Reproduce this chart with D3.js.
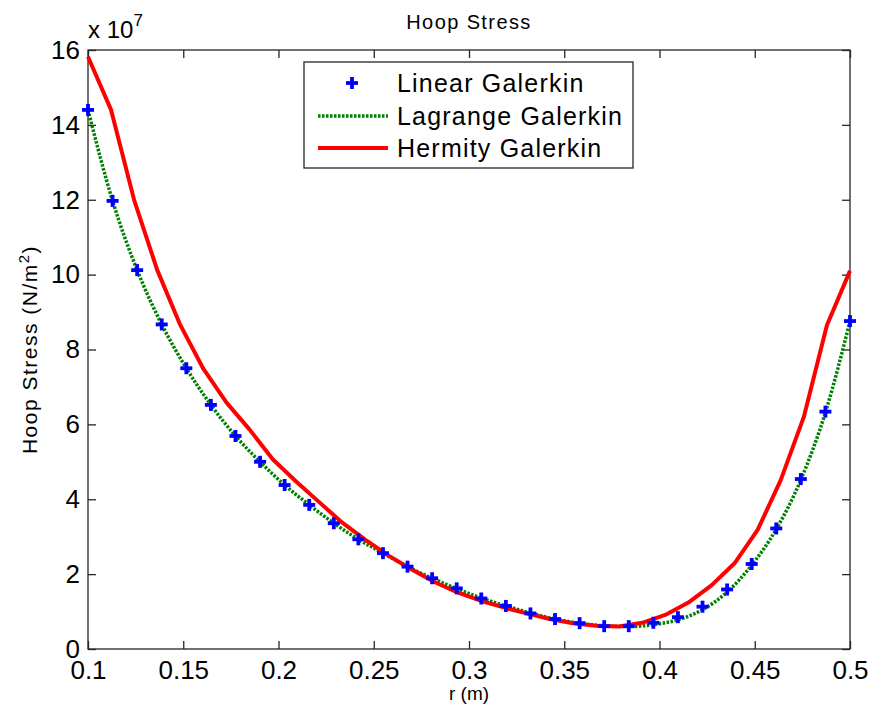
<!DOCTYPE html>
<html>
<head>
<meta charset="utf-8">
<script src="https://cdn.jsdelivr.net/npm/d3@7"></script>
<style>
  body { margin: 0; background: #fff; }
  svg text { font-family: "Liberation Sans", Arial, sans-serif; fill: #000; }
</style>
</head>
<body>
<script>
var width = 872, height = 718;
var margin = {top: 50, right: 22, bottom: 69, left: 88};

// valeurs en unites de 1e7 N/m^2
var linearR = d3.range(32).map(function(i) { return 0.1 + i * 0.4 / 31; });
var linearVal = [14.40, 11.97, 10.12, 8.67, 7.50, 6.52, 5.69, 5.00, 4.38, 3.85,
                 3.36, 2.93, 2.56, 2.20, 1.89, 1.62, 1.35, 1.15, 0.95, 0.80,
                 0.69, 0.61, 0.61, 0.70, 0.85, 1.13, 1.59, 2.27, 3.22, 4.54,
                 6.34, 8.76];
var lagrangeVal = [14.40, 11.97, 10.12, 8.67, 7.50, 6.52, 5.69, 5.00, 4.38, 3.85,
                   3.36, 2.93, 2.56, 2.20, 1.89, 1.61, 1.36, 1.15, 0.96, 0.80,
                   0.69, 0.62, 0.60, 0.65, 0.78, 1.05, 1.52, 2.24, 3.20, 4.52,
                   6.32, 8.76];
var hermiteR = d3.range(34).map(function(j) { return 0.1 + j * 0.4 / 33; });
var hermiteVal = [15.82, 14.40, 11.99, 10.12, 8.65, 7.48, 6.58, 5.86, 5.07, 4.48,
                  3.93, 3.38, 2.92, 2.50, 2.13, 1.79, 1.51, 1.29, 1.11, 0.95,
                  0.80, 0.69, 0.62, 0.60, 0.70, 0.91, 1.24, 1.70, 2.29, 3.18,
                  4.51, 6.20, 8.65, 10.10];
var xTicks = [0.1, 0.15, 0.2, 0.25, 0.3, 0.35, 0.4, 0.45, 0.5];
var yTicks = [0, 2, 4, 6, 8, 10, 12, 14, 16];
var legendLabels = ["Linear Galerkin", "Lagrange Galerkin", "Hermity Galerkin"];

var svg = d3.select("body").append("svg")
    .attr("width", width)
    .attr("height", height);

var w = width - margin.left - margin.right,
    h = height - margin.top - margin.bottom;

var g = svg.append("g").attr("transform", "translate(" + margin.left + "," + margin.top + ")");

var x = d3.scaleLinear().domain([0.1, 0.5]).range([0, w]);
var y = d3.scaleLinear().domain([0, 16]).range([h, 0]);

var axisColor = "#262626";

// axes avec ticks vers l'interieur (style matlab)
function styleAxis(sel) {
    sel.select(".domain").remove();
    sel.selectAll(".tick line").attr("stroke", axisColor).attr("stroke-width", 1.3);
    sel.selectAll("text").style("font-size", "26px").attr("fill", "#000");
}

g.append("g").attr("transform", "translate(0," + h + ")")
    .call(d3.axisBottom(x).tickValues(xTicks).tickSizeInner(-8).tickSizeOuter(0).tickPadding(12)
        .tickFormat(function(d) { return String(+d.toFixed(2)); }))
    .call(styleAxis);
g.append("g")
    .call(d3.axisTop(x).tickValues(xTicks).tickSizeInner(-8).tickSizeOuter(0).tickFormat(""))
    .call(styleAxis);
g.append("g")
    .call(d3.axisLeft(y).tickValues(yTicks).tickSizeInner(-8).tickSizeOuter(0).tickPadding(8))
    .call(styleAxis);
g.append("g").attr("transform", "translate(" + w + ",0)")
    .call(d3.axisRight(y).tickValues(yTicks).tickSizeInner(-8).tickSizeOuter(0).tickFormat(""))
    .call(styleAxis);

g.append("rect")
    .attr("width", w).attr("height", h)
    .attr("fill", "none").attr("stroke", axisColor).attr("stroke-width", 1.3);

// courbes
var lagLine = d3.line()
    .x(function(d, i) { return x(linearR[i]); })
    .y(function(d) { return y(d); })
    .curve(d3.curveMonotoneX);
var herLine = d3.line()
    .x(function(d, i) { return x(hermiteR[i]); })
    .y(function(d) { return y(d); });

g.append("path").datum(lagrangeVal)
    .attr("d", lagLine)
    .attr("fill", "none").attr("stroke", "#008000")
    .attr("stroke-width", 3.5).attr("stroke-dasharray", "2.5,1.5");

g.append("path").datum(hermiteVal)
    .attr("d", herLine)
    .attr("fill", "none").attr("stroke", "#ff0000")
    .attr("stroke-width", 4).attr("stroke-linejoin", "round");

function plus(sel, s) {
    sel.append("line").attr("x1", -s).attr("x2", s).attr("y1", 0).attr("y2", 0);
    sel.append("line").attr("x1", 0).attr("x2", 0).attr("y1", -s).attr("y2", s);
    sel.selectAll("line").attr("stroke", "#0000ff").attr("stroke-width", 3.8);
}

g.selectAll(".pt").data(linearVal).enter().append("g")
    .attr("class", "pt")
    .attr("transform", function(d, i) { return "translate(" + x(linearR[i]) + "," + y(d) + ")"; })
    .each(function() { plus(d3.select(this), 6); });

// legende
var leg = svg.append("g").attr("transform", "translate(304,62)");
leg.append("rect").attr("width", 329).attr("height", 106)
    .attr("fill", "#fff").attr("stroke", axisColor).attr("stroke-width", 1.3);
var rows = [21, 54, 86];
leg.append("g").attr("transform", "translate(48," + rows[0] + ")").call(plus, 6);
leg.append("line").attr("x1", 14).attr("x2", 84).attr("y1", rows[1]).attr("y2", rows[1])
    .attr("stroke", "#008000").attr("stroke-width", 3.5).attr("stroke-dasharray", "2.5,1.5");
leg.append("line").attr("x1", 14).attr("x2", 84).attr("y1", rows[2]).attr("y2", rows[2])
    .attr("stroke", "#ff0000").attr("stroke-width", 4);
leg.selectAll(".lt").data(legendLabels).enter().append("text")
    .attr("x", 93)
    .attr("y", function(d, i) { return rows[i]; })
    .attr("dy", "0.35em")
    .style("font-size", "25px")
    .style("letter-spacing", "1.2px")
    .text(function(d) { return d; });

// textes
svg.append("text").attr("x", margin.left + w / 2).attr("y", 29)
    .attr("text-anchor", "middle").style("font-size", "20px")
    .style("letter-spacing", "1.4px").text("Hoop Stress");
svg.append("text").attr("x", margin.left + w / 2).attr("y", 700)
    .attr("text-anchor", "middle").style("font-size", "19px").text("r (m)");
var yl = svg.append("text")
    .attr("transform", "translate(37," + (margin.top + h / 2) + ") rotate(-90)")
    .attr("text-anchor", "middle").style("font-size", "21px").style("letter-spacing", "1.5px");
yl.append("tspan").text("Hoop Stress (N/m");
yl.append("tspan").attr("dy", -8).style("font-size", "15px").text("2");
yl.append("tspan").attr("dy", 8).text(")");

var ex = svg.append("text").attr("x", 88).attr("y", 38).style("font-size", "24px");
ex.append("tspan").text("x 10");
ex.append("tspan").attr("dy", -12).style("font-size", "17px").text("7");
</script>
</body>
</html>
